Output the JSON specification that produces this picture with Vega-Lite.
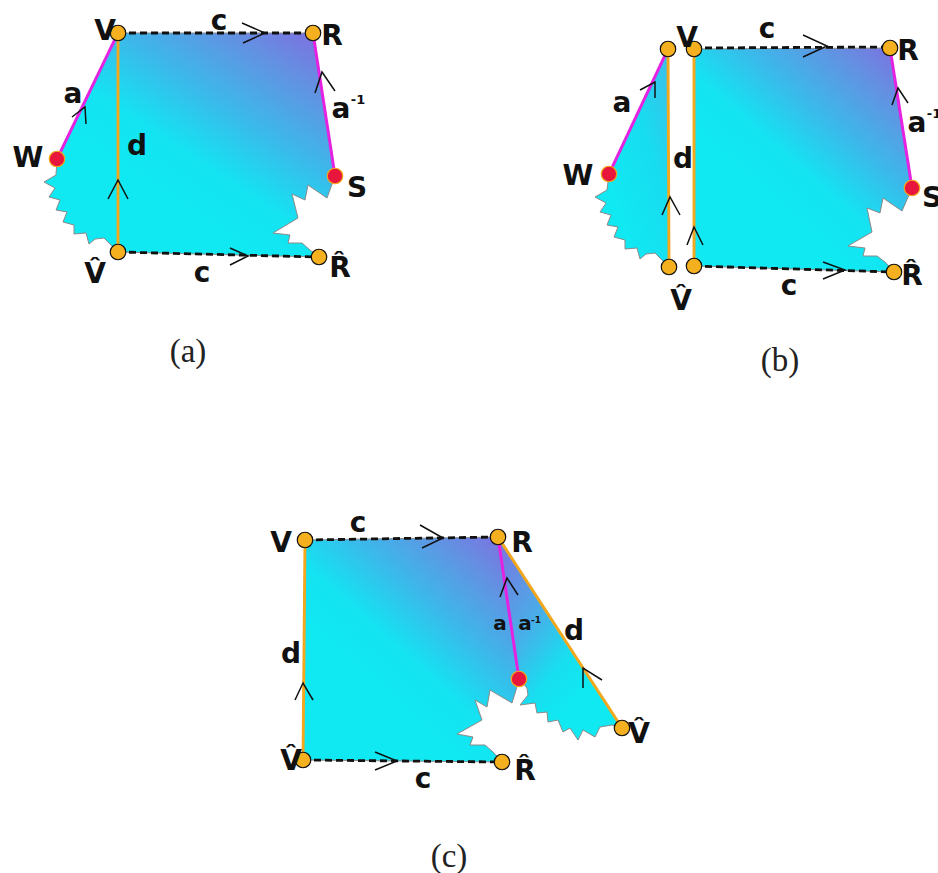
{
  "$schema": "https://vega.github.io/schema/vega-lite/v6.json",
  "width": 938,
  "height": 873,
  "padding": 0,
  "autosize": {"type": "none"},
  "config": {"view": {"stroke": null}},
  "datasets": {
    "polys": [
      {"p":"A","i":1,"x":118,"y":33},{"p":"A","i":2,"x":313,"y":33},{"p":"A","i":3,"x":335,"y":176},{"p":"A","i":4,"x":327,"y":198},{"p":"A","i":5,"x":308,"y":185},{"p":"A","i":6,"x":305,"y":200},{"p":"A","i":7,"x":292,"y":194},{"p":"A","i":8,"x":298,"y":218},{"p":"A","i":9,"x":273,"y":233},{"p":"A","i":10,"x":290,"y":235},{"p":"A","i":11,"x":288,"y":243},{"p":"A","i":12,"x":302,"y":243},{"p":"A","i":13,"x":310,"y":250},{"p":"A","i":14,"x":319,"y":257},{"p":"A","i":15,"x":118,"y":252},{"p":"A","i":16,"x":111,"y":245},{"p":"A","i":17,"x":104,"y":238},{"p":"A","i":18,"x":95,"y":239},{"p":"A","i":19,"x":89,"y":244},{"p":"A","i":20,"x":86,"y":233},{"p":"A","i":21,"x":74,"y":234},{"p":"A","i":22,"x":74,"y":225},{"p":"A","i":23,"x":63,"y":222},{"p":"A","i":24,"x":67,"y":212},{"p":"A","i":25,"x":56,"y":210},{"p":"A","i":26,"x":60,"y":200},{"p":"A","i":27,"x":49,"y":197},{"p":"A","i":28,"x":55,"y":188},{"p":"A","i":29,"x":44,"y":182},{"p":"A","i":30,"x":56,"y":175},{"p":"A","i":31,"x":57,"y":159},{"p":"A","i":32,"x":118,"y":33},
      {"p":"BR","i":1,"x":694,"y":49},{"p":"BR","i":2,"x":890,"y":48},{"p":"BR","i":3,"x":912,"y":188},{"p":"BR","i":4,"x":902,"y":211},{"p":"BR","i":5,"x":883,"y":198},{"p":"BR","i":6,"x":880,"y":213},{"p":"BR","i":7,"x":867,"y":208},{"p":"BR","i":8,"x":872,"y":232},{"p":"BR","i":9,"x":848,"y":246},{"p":"BR","i":10,"x":865,"y":248},{"p":"BR","i":11,"x":863,"y":256},{"p":"BR","i":12,"x":877,"y":256},{"p":"BR","i":13,"x":885,"y":262},{"p":"BR","i":14,"x":894,"y":272},{"p":"BR","i":15,"x":694,"y":266},{"p":"BR","i":16,"x":694,"y":49},
      {"p":"CL","i":1,"x":305,"y":540},{"p":"CL","i":2,"x":498,"y":537},{"p":"CL","i":3,"x":519,"y":679},{"p":"CL","i":4,"x":516,"y":690},{"p":"CL","i":5,"x":512,"y":703},{"p":"CL","i":6,"x":490,"y":690},{"p":"CL","i":7,"x":487,"y":707},{"p":"CL","i":8,"x":475,"y":700},{"p":"CL","i":9,"x":482,"y":720},{"p":"CL","i":10,"x":457,"y":734},{"p":"CL","i":11,"x":473,"y":737},{"p":"CL","i":12,"x":470,"y":745},{"p":"CL","i":13,"x":485,"y":745},{"p":"CL","i":14,"x":493,"y":752},{"p":"CL","i":15,"x":502,"y":762},{"p":"CL","i":16,"x":303,"y":760},{"p":"CL","i":17,"x":305,"y":540}
    ],
    "polyBL": [
      {"p":"BL","i":1,"x":668,"y":49},{"p":"BL","i":2,"x":669,"y":267},{"p":"BL","i":3,"x":662,"y":260},{"p":"BL","i":4,"x":655,"y":253},{"p":"BL","i":5,"x":646,"y":254},{"p":"BL","i":6,"x":640,"y":259},{"p":"BL","i":7,"x":637,"y":248},{"p":"BL","i":8,"x":625,"y":249},{"p":"BL","i":9,"x":625,"y":240},{"p":"BL","i":10,"x":614,"y":237},{"p":"BL","i":11,"x":618,"y":227},{"p":"BL","i":12,"x":607,"y":225},{"p":"BL","i":13,"x":611,"y":215},{"p":"BL","i":14,"x":600,"y":212},{"p":"BL","i":15,"x":606,"y":203},{"p":"BL","i":16,"x":595,"y":197},{"p":"BL","i":17,"x":607,"y":190},{"p":"BL","i":18,"x":609,"y":174},{"p":"BL","i":19,"x":668,"y":49}
    ],
    "polyCR": [
      {"p":"CR","i":1,"x":498,"y":537},{"p":"CR","i":2,"x":622,"y":728},{"p":"CR","i":3,"x":612,"y":725},{"p":"CR","i":4,"x":600,"y":727},{"p":"CR","i":5,"x":595,"y":737},{"p":"CR","i":6,"x":583,"y":730},{"p":"CR","i":7,"x":578,"y":740},{"p":"CR","i":8,"x":570,"y":728},{"p":"CR","i":9,"x":563,"y":732},{"p":"CR","i":10,"x":558,"y":720},{"p":"CR","i":11,"x":548,"y":722},{"p":"CR","i":12,"x":547,"y":712},{"p":"CR","i":13,"x":537,"y":713},{"p":"CR","i":14,"x":535,"y":703},{"p":"CR","i":15,"x":520,"y":705},{"p":"CR","i":16,"x":528,"y":695},{"p":"CR","i":17,"x":527,"y":688},{"p":"CR","i":18,"x":519,"y":679},{"p":"CR","i":19,"x":498,"y":537}
    ],
    "edges": [
      {"e":"ac1","t":"c","i":1,"x":118,"y":33},{"e":"ac1","t":"c","i":2,"x":313,"y":33},
      {"e":"ac2","t":"c","i":1,"x":118,"y":252},{"e":"ac2","t":"c","i":2,"x":319,"y":257},
      {"e":"bc1","t":"c","i":1,"x":694,"y":48},{"e":"bc1","t":"c","i":2,"x":890,"y":47},
      {"e":"bc2","t":"c","i":1,"x":694,"y":266},{"e":"bc2","t":"c","i":2,"x":894,"y":272},
      {"e":"cc1","t":"c","i":1,"x":305,"y":540},{"e":"cc1","t":"c","i":2,"x":498,"y":537},
      {"e":"cc2","t":"c","i":1,"x":303,"y":760},{"e":"cc2","t":"c","i":2,"x":502,"y":762},
      {"e":"ad","t":"d","i":1,"x":118,"y":33},{"e":"ad","t":"d","i":2,"x":118,"y":252},
      {"e":"bdl","t":"d","i":1,"x":668,"y":49},{"e":"bdl","t":"d","i":2,"x":669,"y":267},
      {"e":"bdr","t":"d","i":1,"x":694,"y":49},{"e":"bdr","t":"d","i":2,"x":694,"y":266},
      {"e":"cdl","t":"d","i":1,"x":305,"y":540},{"e":"cdl","t":"d","i":2,"x":303,"y":760},
      {"e":"cdr","t":"d","i":1,"x":498,"y":537},{"e":"cdr","t":"d","i":2,"x":622,"y":728},
      {"e":"aa","t":"a","i":1,"x":57,"y":159},{"e":"aa","t":"a","i":2,"x":118,"y":33},
      {"e":"aai","t":"a","i":1,"x":335,"y":176},{"e":"aai","t":"a","i":2,"x":313,"y":33},
      {"e":"ba","t":"a","i":1,"x":609,"y":174},{"e":"ba","t":"a","i":2,"x":668,"y":49},
      {"e":"bai","t":"a","i":1,"x":912,"y":188},{"e":"bai","t":"a","i":2,"x":890,"y":48},
      {"e":"ca","t":"a","i":1,"x":498,"y":537},{"e":"ca","t":"a","i":2,"x":519,"y":679}
    ],
    "chevrons": [
      {"k":"1","i":1,"x":242,"y":23},{"k":"1","i":2,"x":265,"y":33},{"k":"1","i":3,"x":243,"y":43},
      {"k":"2","i":1,"x":230,"y":248},{"k":"2","i":2,"x":248,"y":256},{"k":"2","i":3,"x":230,"y":265},
      {"k":"3","i":1,"x":108,"y":199},{"k":"3","i":2,"x":118,"y":180},{"k":"3","i":3,"x":128,"y":199},
      {"k":"4","i":1,"x":72,"y":117},{"k":"4","i":2,"x":85,"y":107},{"k":"4","i":3,"x":86,"y":124},
      {"k":"5","i":1,"x":315,"y":93},{"k":"5","i":2,"x":322,"y":72},{"k":"5","i":3,"x":335,"y":91},
      {"k":"6","i":1,"x":803,"y":35},{"k":"6","i":2,"x":827,"y":46},{"k":"6","i":3,"x":803,"y":57},
      {"k":"7","i":1,"x":823,"y":262},{"k":"7","i":2,"x":845,"y":270},{"k":"7","i":3,"x":823,"y":279},
      {"k":"8","i":1,"x":662,"y":215},{"k":"8","i":2,"x":670,"y":197},{"k":"8","i":3,"x":680,"y":215},
      {"k":"9","i":1,"x":687,"y":245},{"k":"9","i":2,"x":694,"y":227},{"k":"9","i":3,"x":703,"y":245},
      {"k":"10","i":1,"x":640,"y":90},{"k":"10","i":2,"x":655,"y":82},{"k":"10","i":3,"x":655,"y":98},
      {"k":"11","i":1,"x":892,"y":105},{"k":"11","i":2,"x":898,"y":88},{"k":"11","i":3,"x":908,"y":103},
      {"k":"12","i":1,"x":420,"y":525},{"k":"12","i":2,"x":443,"y":538},{"k":"12","i":3,"x":422,"y":548},
      {"k":"13","i":1,"x":375,"y":752},{"k":"13","i":2,"x":397,"y":761},{"k":"13","i":3,"x":375,"y":770},
      {"k":"14","i":1,"x":295,"y":700},{"k":"14","i":2,"x":303,"y":683},{"k":"14","i":3,"x":313,"y":700},
      {"k":"15","i":1,"x":583,"y":688},{"k":"15","i":2,"x":583,"y":668},{"k":"15","i":3,"x":602,"y":680},
      {"k":"16","i":1,"x":500,"y":597},{"k":"16","i":2,"x":507,"y":578},{"k":"16","i":3,"x":518,"y":595}
    ],
    "dots": [
      {"x":118,"y":33,"k":"o"},{"x":313,"y":33,"k":"o"},{"x":57,"y":159,"k":"r"},{"x":335,"y":176,"k":"r"},{"x":118,"y":252,"k":"o"},{"x":319,"y":257,"k":"o"},
      {"x":668,"y":49,"k":"o"},{"x":694,"y":49,"k":"o"},{"x":890,"y":48,"k":"o"},{"x":609,"y":174,"k":"r"},{"x":912,"y":188,"k":"r"},{"x":669,"y":267,"k":"o"},{"x":694,"y":266,"k":"o"},{"x":894,"y":272,"k":"o"},
      {"x":305,"y":540,"k":"o"},{"x":498,"y":537,"k":"o"},{"x":519,"y":679,"k":"r"},{"x":303,"y":760,"k":"o"},{"x":502,"y":762,"k":"o"},{"x":622,"y":728,"k":"o"}
    ],
    "labels": [
      {"x":105,"y":40,"s":"V","z":28},{"x":332,"y":45,"s":"R","z":28},{"x":28,"y":167,"s":"W","z":28},{"x":357,"y":197,"s":"S","z":28},
      {"x":95,"y":283,"s":"V\u0302","z":28},{"x":340,"y":277,"s":"R\u0302","z":28},{"x":219,"y":30,"s":"c","z":28},{"x":202,"y":282,"s":"c","z":28},
      {"x":73,"y":103,"s":"a","z":28},{"x":137,"y":155,"s":"d","z":28},{"x":341,"y":118,"s":"a","z":28},{"x":358,"y":104,"s":"-1","z":13},
      {"x":687,"y":47,"s":"V","z":28},{"x":767,"y":38,"s":"c","z":28},{"x":908,"y":60,"s":"R","z":28},{"x":622,"y":112,"s":"a","z":28},
      {"x":917,"y":132,"s":"a","z":28},{"x":934,"y":118,"s":"-1","z":13},{"x":578,"y":185,"s":"W","z":28},{"x":683,"y":168,"s":"d","z":28},
      {"x":932,"y":207,"s":"S","z":28},{"x":681,"y":310,"s":"V\u0302","z":28},{"x":789,"y":295,"s":"c","z":28},{"x":912,"y":285,"s":"R\u0302","z":28},
      {"x":281,"y":552,"s":"V","z":28},{"x":358,"y":532,"s":"c","z":28},{"x":522,"y":552,"s":"R","z":28},{"x":500,"y":630,"s":"a","z":20},
      {"x":525,"y":630,"s":"a","z":20},{"x":536,"y":623,"s":"-1","z":9},{"x":574,"y":640,"s":"d","z":28},{"x":291,"y":663,"s":"d","z":28},
      {"x":291,"y":770,"s":"V\u0302","z":28},{"x":639,"y":743,"s":"V\u0302","z":28},{"x":525,"y":780,"s":"R\u0302","z":28},{"x":423,"y":788,"s":"c","z":28}
    ],
    "captions": [
      {"x":188,"y":352,"s":"(a)"},{"x":780,"y":361,"s":"(b)"},{"x":449,"y":857,"s":"(c)"}
    ]
  },
  "encoding": {
    "x": {"field":"x","type":"quantitative","axis":null,"scale":{"domain":[0,938],"nice":false,"zero":false}},
    "y": {"field":"y","type":"quantitative","axis":null,"scale":{"domain":[0,873],"nice":false,"zero":false,"reverse":true}}
  },
  "layer": [
    {
      "data": {"name":"polys"},
      "mark": {"type":"line","strokeWidth":1,"stroke":"#8a8a8a","strokeJoin":"miter",
        "fill":{"gradient":"linear","x1":0.4,"y1":0.7,"x2":1,"y2":0,"stops":[{"offset":0,"color":"#10E8F2"},{"offset":0.2,"color":"#14E3F2"},{"offset":0.47,"color":"#3CB8EA"},{"offset":0.75,"color":"#6490E2"},{"offset":1,"color":"#8468DF"}]}},
      "encoding": {"detail":{"field":"p"},"order":{"field":"i","type":"quantitative"}}
    },
    {
      "data": {"name":"polyBL"},
      "mark": {"type":"line","strokeWidth":1,"stroke":"#8a8a8a","strokeJoin":"miter",
        "fill":{"gradient":"linear","x1":0.3,"y1":0.7,"x2":1,"y2":0,"stops":[{"offset":0,"color":"#10E8F2"},{"offset":0.5,"color":"#18DCF0"},{"offset":1,"color":"#40BCEA"}]}},
      "encoding": {"order":{"field":"i","type":"quantitative"}}
    },
    {
      "data": {"name":"polyCR"},
      "mark": {"type":"line","strokeWidth":1,"stroke":"#8a8a8a","strokeJoin":"miter",
        "fill":{"gradient":"linear","x1":0.6,"y1":0.8,"x2":0,"y2":0,"stops":[{"offset":0,"color":"#10E8F2"},{"offset":0.2,"color":"#18DEF0"},{"offset":0.5,"color":"#48AEE8"},{"offset":1,"color":"#8070E0"}]}},
      "encoding": {"order":{"field":"i","type":"quantitative"}}
    },
    {
      "data": {"name":"edges"},
      "mark": {"type":"line"},
      "encoding": {
        "detail":{"field":"e"},
        "order":{"field":"i","type":"quantitative"},
        "stroke":{"field":"t","type":"nominal","legend":null,"scale":{"domain":["c","d","a"],"range":["#111111","#F2A71C","#E622E2"]}},
        "strokeDash":{"field":"t","type":"nominal","legend":null,"scale":{"domain":["c","d","a"],"range":[[7,4],[1,0],[1,0]]}},
        "strokeWidth":{"field":"t","type":"nominal","legend":null,"scale":{"domain":["c","d","a"],"range":[2.8,3,2.5]}}
      }
    },
    {
      "data": {"name":"chevrons"},
      "mark": {"type":"line","stroke":"#111111","strokeWidth":1.5},
      "encoding": {"detail":{"field":"k"},"order":{"field":"i","type":"quantitative"}}
    },
    {
      "data": {"name":"dots"},
      "mark": {"type":"point","filled":true,"opacity":1,"strokeWidth":1.2,"size":240},
      "encoding": {
        "fill":{"field":"k","type":"nominal","legend":null,"scale":{"domain":["o","r"],"range":["#F4B01E","#E8163C"]}},
        "stroke":{"field":"k","type":"nominal","legend":null,"scale":{"domain":["o","r"],"range":["#E48A18","#EE7A22"]}}
      }
    },
    {
      "data": {"name":"labels"},
      "mark": {"type":"text","font":"DejaVu Sans","fontWeight":"bold","baseline":"alphabetic","align":"center","color":"#111111"},
      "encoding": {"text":{"field":"s"},"size":{"field":"z","type":"quantitative","scale":null}}
    },
    {
      "data": {"name":"captions"},
      "mark": {"type":"text","font":"Liberation Serif","fontSize":33,"baseline":"middle","align":"center","color":"#222222"},
      "encoding": {"text":{"field":"s"}}
    }
  ]
}
